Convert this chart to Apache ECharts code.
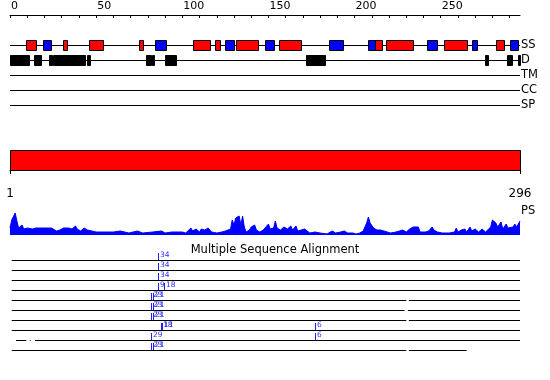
<!DOCTYPE html>
<html><head><meta charset="utf-8">
<script src="https://cdn.jsdelivr.net/npm/echarts@6/dist/echarts.min.js"></script>
<style>html,body{margin:0;padding:0;background:#fff}#c{width:550px;height:380px}</style>
</head><body><div id="c"></div>
<script>
// ---- data ----
const seqLength = 296;
const trackNames = ['SS', 'D', 'TM', 'CC', 'SP'];
const topTicks = [0,10,20,30,40,50,60,70,80,90,100,110,120,130,140,150,160,170,180,190,200,210,220,230,240,250,260,270,280,290];
const topLabels = [0,50,100,150,200,250];
const bottomLabels = [1, 296];
const helixRanges = [[9,15],[31,33],[46,54],[75,77],[106,116],[119,122],[131,144],[156,169],[212,216],[218,234],[252,265],[282,287]];
const strandRanges = [[19,24],[84,90.5],[125,130],[148,153],[185,193],[208,212],[242,248],[268,271],[290,295]];
const disorderRanges = [[0,11],[14,18],[22.6,24.2],[25,43.5],[44.7,46.3],[79,82],[82.6,83.6],[90,96.2],[172,183],[275.7,277.2],[288.6,291.2],[294.6,296]];
const psPos = [0,1,3,4,5,7,8,10,11,13,15,16,17,19,21,22,24,25,27,29,31,32,34,36,38,39,41,43,45,46,50,55,60,64,69,74,77,83,88,90,94,98,100,102,105,106,108,110,111,113,114,115,117,120,123,125,126,128,129,130,131,133,134,135,136,137,139,140,142,143,145,147,148,150,151,153,154,155,157,158,159,161,163,164,166,167,169,171,172,174,177,180,184,187,189,192,194,196,199,201,203,205,207,208,209,210,211,213,215,217,219,220,221,224,226,228,230,232,234,235,237,238,241,243,245,246,248,251,255,258,259,260,262,264,265,267,268,270,272,274,276,277,279,280,282,283,284,285,286,288,289,290,292,293,294,296];
const psVal = [7,15,22,14,7,10,6,7,5,6,7,8,7,7,7,5,7,5,4,5,7,5,7,6,9,6,4,7,5,3,3,3,3,4,2,4,2,3,4,2,3,3,3,2,7,4,6,3,6,5,6,7,3,2,3,4,6,6,15,10,17,19,10,19,8,3,5,8,10,5,3,5,4,11,6,7,14,7,5,7,8,6,9,5,9,4,5,6,4,2,3,2,1,4,2,3,4,2,2,1,2,4,12,18,12,10,7,5,5,4,3,5,2,3,4,5,3,6,8,7,8,3,3,4,8,5,3,2,2,3,7,3,5,6,3,8,4,6,3,6,3,4,8,15,12,8,6,13,6,11,7,9,8,11,8,14];
const alignSegments = [
  [[1,296]],
  [[1,296]],
  [[1,296]],
  [[1,296]],
  [[1,230],[231.5,296]],
  [[1,229],[231,296]],
  [[1,230],[231.5,296]],
  [[1,296]],
  [[3.5,9.5],[11.5,12],[14.5,296]],
  [[1,230],[231.5,265]]
];
const alignMarkers = [
  [86,1,'34'],[86,2,'34'],[86,3,'34'],
  [86,4,'9'],[89.5,4,'18'],
  [82,5,'23'],[83,5,'21'],
  [82,6,'23'],[83,6,'21'],
  [82,7,'23'],[83,7,'21'],
  [87.5,8,'18'],[88.5,8,'11'],[177,8,'6'],
  [82,9,'29'],[177,9,'6'],
  [82,10,'23'],[83,10,'21']
];
const msaTitle = 'Multiple Sequence Alignment';

// ---- chart ----
const FONT = 'DejaVu Sans';
const chart = echarts.init(document.getElementById('c'), null, {renderer: 'canvas'});

function boxRender(params, api) {
  const s = api.coord([api.value(0), api.value(2)]);
  const e = api.coord([api.value(1), api.value(2)]);
  const h = Math.round(api.size([0, 1])[1] * 0.68);
  const x0 = Math.round(s[0]) + 0.5, x1 = Math.round(e[0]) + 0.5;
  const y0 = Math.round(s[1] - h / 2) + 0.5;
  return {type: 'rect', shape: {x: x0, y: y0, width: Math.max(1, x1 - x0), height: h},
    style: {fill: api.visual('color'), stroke: '#000', lineWidth: 1, lineJoin: 'miter'}};
}
function lineRender(params, api) {
  const s = api.coord([api.value(0), api.value(2)]);
  const e = api.coord([api.value(1), api.value(2)]);
  return {type: 'line', shape: {x1: s[0], y1: Math.round(s[1]) + 0.5, x2: e[0], y2: Math.round(e[1]) + 0.5},
    style: {stroke: '#000', lineWidth: 1}};
}
function markerRender(params, api) {
  const p = api.coord([api.value(0), api.value(1)]);
  const x = Math.round(p[0]) + 0.5, y = Math.round(p[1]);
  return {type: 'group', children: [
    {type: 'line', shape: {x1: x, y1: y, x2: x, y2: y - 7}, style: {stroke: '#2020ff', lineWidth: 1}},
    {type: 'text', x: x + 1.5, y: y - 1, style: {text: alignMarkers[params.dataIndex][2], fill: '#3030ff',
      font: '7.5px "DejaVu Sans"', textVerticalAlign: 'bottom', textAlign: 'left'}}
  ]};
}

const trackLineData = trackNames.map((n, i) => [0, seqLength, i]);
const msaLineData = [];
alignSegments.forEach((segs, r) => segs.forEach(s => msaLineData.push([s[0], s[1], r + 1])));

const hiddenX = (gi) => ({gridIndex: gi, type: 'value', min: 0, max: seqLength, show: false});

const option = {
  animation: false,
  backgroundColor: '#fff',
  textStyle: {fontFamily: FONT},
  title: [
    {text: msaTitle, left: 'center', top: 244, padding: 0, textStyle: {fontFamily: FONT, fontSize: 11.5, fontWeight: 'normal', color: '#000'}},
    {text: 'PS', left: 521, top: 205, padding: 0, textStyle: {fontFamily: FONT, fontSize: 11.5, fontWeight: 'normal', color: '#000'}}
  ],
  grid: [
    {left: 10, width: 510, top: 37.5, height: 75},
    {left: 10, width: 510, top: 150, height: 20},
    {left: 10, width: 510, top: 211, height: 24},
    {left: 10, width: 510, top: 255, height: 100}
  ],
  xAxis: [
    {gridIndex: 0, type: 'value', min: 0, max: seqLength, position: 'top', offset: 22.5,
     axisLine: {show: true, lineStyle: {color: '#000', width: 1}},
     axisTick: {show: true, inside: true, length: 3, customValues: topTicks, lineStyle: {color: '#000'}},
     axisLabel: {show: true, customValues: topLabels, align: 'left', margin: 3, color: '#000', fontFamily: FONT, fontSize: 11, padding: [0, 0, 0, 1]},
     splitLine: {show: false}},
    {gridIndex: 1, type: 'value', min: 1, max: seqLength, position: 'bottom', offset: 11,
     axisLine: {show: true, lineStyle: {color: '#000', width: 1}},
     axisTick: {show: true, length: 4, customValues: bottomLabels, lineStyle: {color: '#000'}},
     axisLabel: {show: true, customValues: bottomLabels, margin: 7, color: '#000', fontFamily: FONT, fontSize: 12},
     splitLine: {show: false}},
    hiddenX(2),
    hiddenX(3)
  ],
  yAxis: [
    {gridIndex: 0, type: 'category', data: trackNames, inverse: true, position: 'right',
     axisLine: {show: false}, axisTick: {show: false}, splitLine: {show: false},
     axisLabel: {show: true, interval: 0, margin: 1, color: '#000', fontFamily: FONT, fontSize: 11.5}},
    {gridIndex: 1, type: 'value', min: 0, max: 1, show: false},
    {gridIndex: 2, type: 'value', min: 0, max: 24, show: false},
    {gridIndex: 3, type: 'value', min: 0.5, max: 10.5, inverse: true, show: false}
  ],
  series: [
    {type: 'custom', xAxisIndex: 0, yAxisIndex: 0, renderItem: lineRender, data: trackLineData, z: 1, silent: true},
    {type: 'custom', xAxisIndex: 0, yAxisIndex: 0, renderItem: boxRender, itemStyle: {color: '#ff0000'},
     data: helixRanges.map(r => [r[0], r[1], 0]), z: 2},
    {type: 'custom', xAxisIndex: 0, yAxisIndex: 0, renderItem: boxRender, itemStyle: {color: '#0000ff'},
     data: strandRanges.map(r => [r[0], r[1], 0]), z: 2},
    {type: 'custom', xAxisIndex: 0, yAxisIndex: 0, renderItem: boxRender, itemStyle: {color: '#000000'},
     data: disorderRanges.map(r => [r[0], r[1], 1]), z: 2},
    {type: 'custom', xAxisIndex: 1, yAxisIndex: 1, itemStyle: {color: '#ff0000'},
     renderItem: function (params, api) {
       const s = api.coord([api.value(0), 1]);
       const e = api.coord([api.value(1), 0]);
       return {type: 'rect', shape: {x: Math.round(s[0]) + 0.5, y: Math.round(s[1]) + 0.5, width: Math.round(e[0] - s[0]), height: Math.round(e[1] - s[1])},
         style: {fill: '#ff0000', stroke: '#000', lineWidth: 1}};
     }, data: [[1, seqLength]]},
    {type: 'line', xAxisIndex: 2, yAxisIndex: 2, data: psPos.map((p, i) => [p, psVal[i]]),
     showSymbol: false, symbol: 'none', lineStyle: {color: '#0000ff', width: 1},
     areaStyle: {color: '#0000ff', opacity: 1}},
    {type: 'custom', xAxisIndex: 3, yAxisIndex: 3, renderItem: lineRender,
     data: msaLineData.map(d => [d[0], d[1], d[2]]), z: 1},
    {type: 'custom', xAxisIndex: 3, yAxisIndex: 3, renderItem: markerRender,
     data: alignMarkers.map(m => [m[0], m[1]]), z: 3}
  ]
};
chart.setOption(option);
</script></body></html>
